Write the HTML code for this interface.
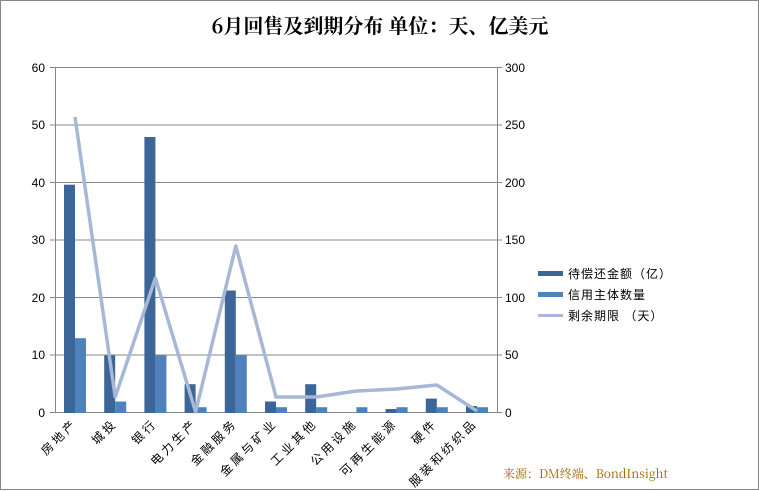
<!DOCTYPE html>
<html><head><meta charset="utf-8"><style>
body{margin:0;background:#fff}
svg{display:block}
text{font-family:"Liberation Sans","Noto Sans CJK SC",sans-serif}
.c{font-family:"Noto Serif CJK SC","Noto Sans CJK SC",serif}
</style></head><body>
<svg width="759" height="491" viewBox="0 0 759 491" xmlns="http://www.w3.org/2000/svg">
<rect x="0.5" y="0.5" width="758" height="489" fill="#fff" stroke="#868686"/>
<text x="380" y="33" text-anchor="middle" font-size="20" font-weight="bold" class="c">6月回售及到期分布 单位：天、亿美元</text>
<g stroke="#868686" stroke-width="1">
<line x1="50" y1="67.5" x2="502" y2="67.5"/>
<line x1="50" y1="125" x2="502" y2="125"/>
<line x1="50" y1="182.5" x2="502" y2="182.5"/>
<line x1="50" y1="240" x2="502" y2="240"/>
<line x1="50" y1="297.5" x2="502" y2="297.5"/>
<line x1="50" y1="355" x2="502" y2="355"/>
<line x1="50" y1="412.5" x2="502" y2="412.5"/>
<line x1="55.5" y1="67" x2="55.5" y2="413"/>
<line x1="497.5" y1="67" x2="497.5" y2="413"/>
</g>
<g font-size="12" fill="#000" text-anchor="end">
<text x="45" y="72">60</text><text x="45" y="129">50</text><text x="45" y="187">40</text><text x="45" y="244">30</text><text x="45" y="302">20</text><text x="45" y="359">10</text><text x="45" y="417">0</text>
</g>
<g font-size="12" fill="#000">
<text x="505" y="72">300</text><text x="505" y="129">250</text><text x="505" y="187">200</text><text x="505" y="244">150</text><text x="505" y="302">100</text><text x="505" y="359">50</text><text x="505" y="417">0</text>
</g>
<g fill="#3C6598">
<rect x="64" y="184.7" width="11" height="228.3"/>
<rect x="104.2" y="355.5" width="11" height="57.5"/>
<rect x="144.4" y="137" width="11" height="276"/>
<rect x="184.6" y="384.2" width="11" height="28.8"/>
<rect x="224.8" y="290.5" width="11" height="122.5"/>
<rect x="265" y="401.5" width="11" height="11.5"/>
<rect x="305.2" y="384.2" width="11" height="28.8"/>
<rect x="385.6" y="409" width="11" height="4"/>
<rect x="425.8" y="398.6" width="11" height="14.4"/>
<rect x="466" y="406" width="11" height="7"/>
</g>
<g fill="#4F81BD">
<rect x="75" y="338.2" width="11" height="74.8"/>
<rect x="115.2" y="401.5" width="11" height="11.5"/>
<rect x="155.4" y="355.5" width="11" height="57.5"/>
<rect x="195.6" y="407.2" width="11" height="5.8"/>
<rect x="235.8" y="355.5" width="11" height="57.5"/>
<rect x="276" y="407.2" width="11" height="5.8"/>
<rect x="316.2" y="407.2" width="11" height="5.8"/>
<rect x="356.4" y="407.2" width="11" height="5.8"/>
<rect x="396.6" y="407.2" width="11" height="5.8"/>
<rect x="436.8" y="407.2" width="11" height="5.8"/>
<rect x="477" y="407.2" width="11" height="5.8"/>
</g>
<polyline fill="none" stroke="#A6B8D6" stroke-width="3.5" stroke-linejoin="round" points="75,117 115.2,397 155.4,278 195.6,412 235.8,246 276,397 316.2,397 356.4,391 396.6,389 436.8,385 477,411"/>
<g font-size="12" class="c" text-anchor="end" letter-spacing="3">
<text transform="translate(78,424) rotate(-45)">房地产</text>
<text transform="translate(118,424) rotate(-45)">城投</text>
<text transform="translate(158,424) rotate(-45)">银行</text>
<text transform="translate(198,424) rotate(-45)">电力生产</text>
<text transform="translate(238,424) rotate(-45)">金融服务</text>
<text transform="translate(278,424) rotate(-45)">金属与矿业</text>
<text transform="translate(318,424) rotate(-45)">工业其他</text>
<text transform="translate(358,424) rotate(-45)">公用设施</text>
<text transform="translate(398,424) rotate(-45)">可再生能源</text>
<text transform="translate(438,424) rotate(-45)">硬件</text>
<text transform="translate(478,424) rotate(-45)">服装和纺织品</text>
</g>
<rect x="538" y="271" width="25" height="5" fill="#3C6598"/>
<rect x="538" y="292" width="25" height="5" fill="#4F81BD"/>
<rect x="538" y="314" width="25" height="3" fill="#A6B8D6"/>
<g font-size="12" class="c" letter-spacing="1">
<text x="568" y="278">待偿还金额（亿）</text>
<text x="568" y="299">信用主体数量</text>
<text x="568" y="320">剩余期限 （天）</text>
</g>
<text x="503" y="478" font-size="12" fill="#9C6500" class="c">来源：DM终端、BondInsight</text>
</svg>
</body></html>
